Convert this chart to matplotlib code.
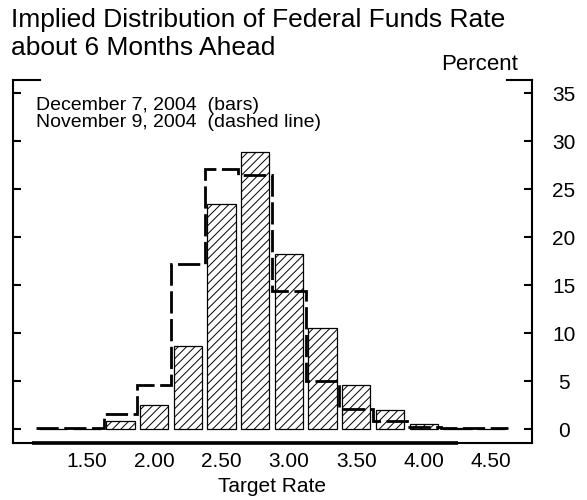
import matplotlib
matplotlib.use("Agg")
import matplotlib.pyplot as plt
import numpy as np

plt.rcParams['font.family'] = ['Liberation Sans', 'DejaVu Sans']
plt.rcParams['hatch.linewidth'] = 0.7

# Data
rates = [1.25, 1.50, 1.75, 2.00, 2.25, 2.50, 2.75, 3.00, 3.25, 3.50, 3.75, 4.00, 4.25, 4.50]
dec7_bars = [0.0, 0.0, 0.9, 2.5, 8.7, 23.5, 28.9, 18.3, 10.5, 4.6, 2.0, 0.5, 0.15, 0.05]
nov9_dashed = [0.1, 0.1, 1.6, 4.6, 17.2, 27.1, 26.5, 14.4, 5.0, 2.1, 0.9, 0.2, 0.1, 0.1]
xtick_vals = [1.5, 2.0, 2.5, 3.0, 3.5, 4.0, 4.5]
xtick_labels = ["1.50", "2.00", "2.50", "3.00", "3.50", "4.00", "4.50"]
ytick_vals = [0, 5, 10, 15, 20, 25, 30, 35]

title_lines = ["Implied Distribution of Federal Funds Rate", "about 6 Months Ahead"]
legend_lines = ["December 7, 2004  (bars)", "November 9, 2004  (dashed line)"]

W, H = 587, 500
fig = plt.figure(figsize=(W / 100, H / 100), dpi=100)
ax = fig.add_axes([12.7 / W, 1 - 442.7 / H, 519.3 / W, 363.2 / H])

step = 0.25
ax.bar(rates, dec7_bars, width=0.21, color="white", edgecolor="black",
       linewidth=0.9, hatch="////", zorder=2)

edges = np.append(np.array(rates) - step / 2, rates[-1] + step / 2)
ax.stairs(nov9_dashed, edges, baseline=None, color="black", linewidth=2.0,
          linestyle=(0, (8, 2)), zorder=3)

ax.set_xlim(0.951, 4.803)
ax.set_ylim(-1.40, 36.44)

ax.set_xticks(xtick_vals)
ax.set_xticklabels(xtick_labels)
ax.set_yticks(ytick_vals)
ax.tick_params(axis="x", length=0, pad=7, labelsize=15)
ax.tick_params(axis="y", direction="in", left=True, right=True,
               labelleft=False, labelright=True, length=5.5, width=1.5,
               pad=23, labelsize=15)
for lab in ax.get_yticklabels():
    lab.set_horizontalalignment("center")

for s in ["left", "right", "bottom"]:
    ax.spines[s].set_linewidth(1.5)
ax.spines["top"].set_visible(False)
# partial top frame at the corners
ax.plot([0, 0.052], [1, 1], transform=ax.transAxes, color="black", lw=1.5,
        clip_on=False, solid_capstyle="projecting")
ax.plot([0.952, 1], [1, 1], transform=ax.transAxes, color="black", lw=1.5,
        clip_on=False, solid_capstyle="projecting")
# thicker base segment of the x axis
ax.plot([0.037, 0.857], [0, 0], transform=ax.transAxes, color="black", lw=2.6,
        clip_on=False, solid_capstyle="butt")

ax.set_xlabel("Target Rate", fontsize=15, labelpad=4)

fig.text(11 / W, 1 - 27 / H, title_lines[0], fontsize=19, ha="left", va="baseline")
fig.text(11 / W, 1 - 55 / H, title_lines[1], fontsize=19, ha="left", va="baseline")
fig.text(518 / W, 1 - 70 / H, "Percent", fontsize=16, ha="right", va="baseline")
fig.text(36 / W, 1 - 110 / H, legend_lines[0], fontsize=14, ha="left", va="baseline")
fig.text(36 / W, 1 - 127 / H, legend_lines[1], fontsize=14, ha="left", va="baseline")

fig.savefig("out.png", dpi=100)
